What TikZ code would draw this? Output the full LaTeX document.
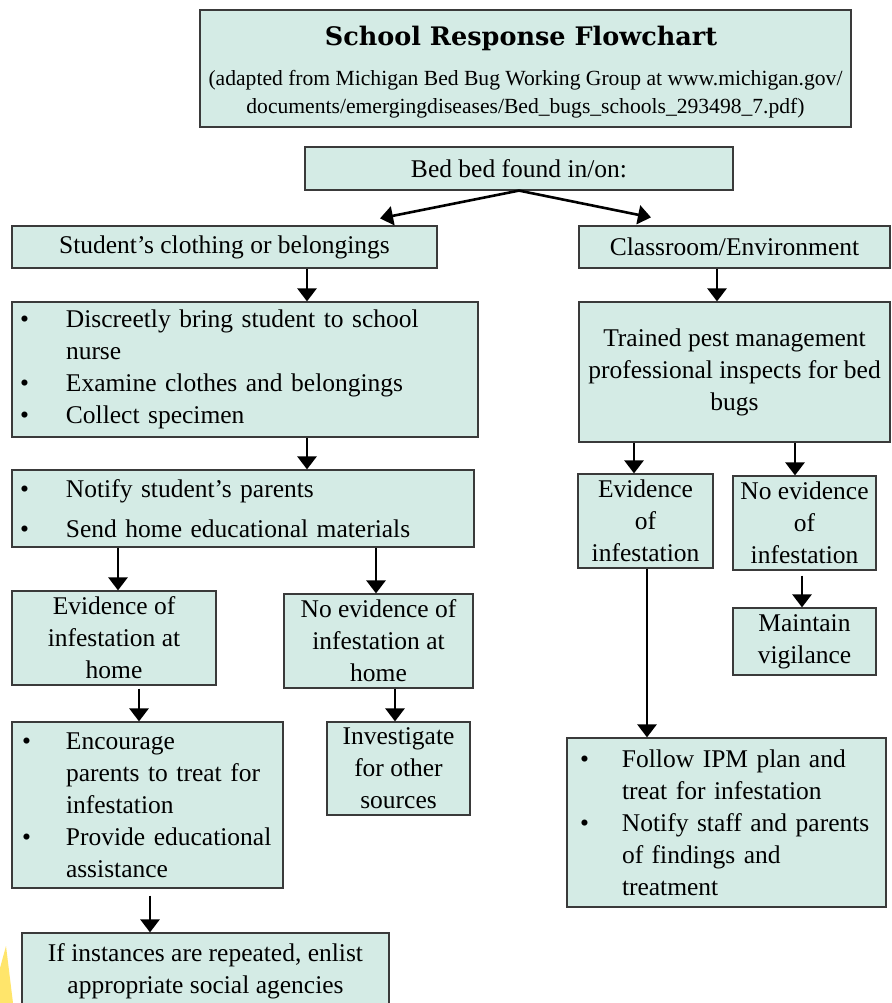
\documentclass[tikz,border=0pt]{standalone}
\usepackage{fontspec}
\setmainfont{Liberation Serif}
\newfontfamily\titlefont{DejaVu Serif}
\usetikzlibrary{arrows.meta}
\definecolor{mint}{HTML}{D4EBE5}
\definecolor{edge}{HTML}{3A3A3A}
\definecolor{sun}{HTML}{FFE56B}
\newcommand{\bul}[1]{\makebox[#1][l]{\textbullet}}
\begin{document}
\begin{tikzpicture}[x=1pt,y=-1pt,
  box/.style={draw=edge,fill=mint,line width=1.2pt,inner sep=0pt,align=center,
    font=\fontsize{25.5}{32}\selectfont},
  lbox/.style={box,align=left},
  plain/.style={inner sep=0pt,align=center},
  arr/.style={line width=2.6pt,-{Triangle[width=19pt,length=13pt]}},
  ln/.style={line width=2.6pt}]
\useasboundingbox (0,0) rectangle (891,1003);
\fill[white] (0,0) rectangle (891,1003);
\fill[sun] (0,968) -- (6,946) -- (13,1003) -- (0,1003) -- cycle;

% title
\node[box,minimum width=651pt,minimum height=117pt] (titlebox) at (525.5,68.5) {};
\node[plain,font=\titlefont\bfseries\fontsize{25.5}{30}\selectfont] (title) at (521,38) {School Response Flowchart};
\node[plain,font=\fontsize{21.6}{28}\selectfont] (source) at (525.5,94)
  {(adapted from Michigan Bed Bug Working Group at www.michigan.gov/\\
   documents/emergingdiseases/Bed\_bugs\_schools\_293498\_7.pdf)};

% top
\node[box,minimum width=428pt,minimum height=43pt] (bed) at (519,168.5) {Bed bed found in/on:};
\node[box,minimum width=425pt,minimum height=42pt] (student) at (224.5,247) {Student’s clothing or belongings};
\node[box,minimum width=311pt,minimum height=42pt] (classroom) at (734.5,247) {Classroom/Environment};

% left column
\node[lbox,minimum width=466pt,minimum height=135pt,text width=450pt] (nurse) at (245,369.5)
  {\bul{46pt}Discreetly bring student to school\\
   \hspace*{46pt}nurse\\
   \bul{46pt}Examine clothes and belongings\\
   \bul{46pt}Collect specimen};
\node[lbox,minimum width=462pt,minimum height=77pt,text width=446pt,
  font=\fontsize{25.5}{40}\selectfont] (notify) at (243,508.5)
  {\bul{46pt}Notify student’s parents\\
   \bul{46pt}Send home educational materials};
\node[box,minimum width=204pt,minimum height=94pt] (evh) at (114,638)
  {Evidence of\\infestation at\\home};
\node[box,minimum width=189pt,minimum height=94pt] (nevh) at (378.5,641)
  {No evidence of\\infestation at\\home};
\node[lbox,minimum width=271pt,minimum height=166pt,text width=251pt] (encourage) at (147.5,805)
  {\bul{44pt}Encourage\\
   \hspace*{44pt}parents to treat for\\
   \hspace*{44pt}infestation\\
   \bul{44pt}Provide educational\\
   \hspace*{44pt}assistance};
\node[box,minimum width=143pt,minimum height=93pt] (investigate) at (398.5,768.5)
  {Investigate\\for other\\sources};
\node[box,minimum width=367pt,minimum height=76pt] (agencies) at (205.5,971)
  {If instances are repeated, enlist\\appropriate social agencies};

% right column
\node[box,minimum width=311pt,minimum height=140pt] (trained) at (734.5,372)
  {Trained pest management\\professional inspects for bed\\bugs};
\node[box,minimum width=135pt,minimum height=94pt] (ev) at (645.5,521)
  {Evidence\\of\\infestation};
\node[box,minimum width=143pt,minimum height=94pt] (nev) at (804.5,523)
  {No evidence\\of\\infestation};
\node[box,minimum width=143pt,minimum height=67pt] (maintain) at (804.5,641.5)
  {Maintain\\vigilance};
\node[lbox,minimum width=319pt,minimum height=169pt,text width=293pt] (ipm) at (726.5,822.5)
  {\bul{42pt}Follow IPM plan and\\
   \hspace*{42pt}treat for infestation\\
   \bul{42pt}Notify staff and parents\\
   \hspace*{42pt}of findings and\\
   \hspace*{42pt}treatment};

% connectors
\draw[arr] (bed.south) -- ([shift={(155.5,-7)}]student.north);
\draw[arr] (bed.south) -- ([shift={(-83.5,-8)}]classroom.north);
\draw[arr] (student.south -| 307,0) -- (nurse.north -| 307,0);
\draw[arr] (nurse.south -| 307,0) -- (notify.north -| 307,0);
\draw[arr] (notify.south -| 118,0) -- (evh.north -| 118,0);
\draw[arr] (notify.south -| 376,0) -- (nevh.north -| 376,0);
\draw[arr] ([yshift=-3pt]evh.south -| 139,0) -- (encourage.north -| 139,0);
\draw[arr] (nevh.south -| 395,0) -- (investigate.north -| 395,0);
\draw[arr] ([yshift=-7pt]encourage.south -| 150,0) -- (agencies.north -| 150,0);
\draw[arr] (classroom.south -| 717,0) -- (trained.north -| 717,0);
\draw[arr] (trained.south -| 634,0) -- (ev.north -| 634,0);
\draw[arr] (trained.south -| 795,0) -- (nev.north -| 795,0);
\draw[arr] ([yshift=-5pt]nev.south -| 802,0) -- (maintain.north -| 802,0);
\draw[arr] (ev.south -| 647,0) -- (ipm.north -| 647,0);
\end{tikzpicture}
\end{document}
